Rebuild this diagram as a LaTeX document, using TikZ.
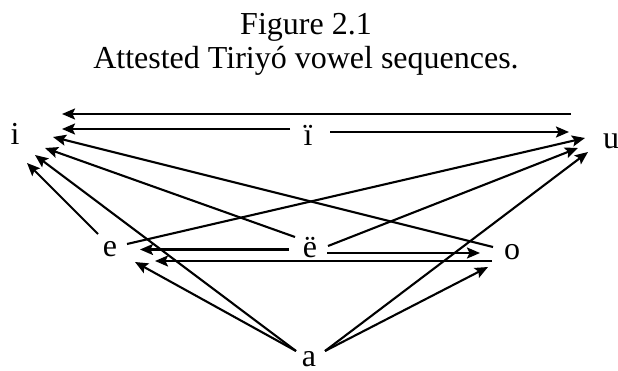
\documentclass[tikz,border=0pt]{standalone}
\usepackage{fontspec}
\setmainfont{Liberation Serif}
\usetikzlibrary{arrows.meta}
\begin{document}
\begin{tikzpicture}[x=1pt,y=-1pt,
  lbl/.style={inner sep=0pt,anchor=base,font=\fontsize{32}{38}\selectfont},
  arr/.style={line width=2.1pt,-{Stealth[length=13pt,width=11pt,inset=2.5pt]}}]
\useasboundingbox (0,0) rectangle (618,371);
% titles
\node[lbl] (t1) at (306,35) {Figure 2.1};
\node[lbl] (t2) at (306,69) {Attested Tiriyó vowel sequences.};
% vowels
\node[lbl] (i) at (15,145) {i};
\node[lbl] (ii) at (308,146) {ï};
\node[lbl] (u) at (611,149) {u};
\node[lbl] (e) at (110,257) {e};
\node[lbl] (ee) at (310,258) {ë};
\node[lbl] (o) at (512,259) {o};
\node[lbl] (a) at (309,366) {a};
% endpoints near i
\coordinate (i1) at (62,114);
\coordinate (i2) at (62,129);
\coordinate (i3) at (53,137);
\coordinate (i4) at (45,148);
\coordinate (i5) at (35,155);
\coordinate (i6) at (27,163);
% endpoints near u
\coordinate (u0) at (571,114);
\coordinate (u1) at (569,132);
\coordinate (u2) at (585,138);
\coordinate (u3) at (578,148);
\coordinate (u4) at (588,152);
% endpoints near ï
\coordinate (iiL) at (290,129);
\coordinate (iiR) at (330,132);
% endpoints near e
\coordinate (eT) at (98,234);
\coordinate (eR) at (127,244);
\coordinate (e1) at (140,249.5);
\coordinate (e2) at (155,261);
\coordinate (e3) at (135,262);
% endpoints near ë
\coordinate (eeL1) at (295,237);
\coordinate (eeL2) at (289,249.5);
\coordinate (eeR1) at (328,246);
\coordinate (eeR2) at (327,253);
% endpoints near o
\coordinate (oL1) at (493,247);
\coordinate (oL2) at (492,261);
\coordinate (o1) at (480,253);
\coordinate (o2) at (488,267);
% endpoints near a
\coordinate (aL) at (296,351);
\coordinate (aR) at (325,351);
% arrows
\draw[arr] (u0) -- (i1);
\draw[arr] (iiL) -- (i2);
\draw[arr] (iiR) -- (u1);
\draw[arr] (oL1) -- (i3);
\draw[arr] (eeL1) -- (i4);
\draw[arr] (aL) -- (i5);
\draw[arr] (eT) -- (i6);
\draw[arr] (eR) -- (u2);
\draw[arr] (eeR1) -- (u3);
\draw[arr] (aR) -- (u4);
\draw[arr] (eeL2) -- (e1);
\draw[arr] (eeR2) -- (o1);
\draw[arr] (oL2) -- (e2);
\draw[arr] (aL) -- (e3);
\draw[arr] (aR) -- (o2);
\end{tikzpicture}
\end{document}
